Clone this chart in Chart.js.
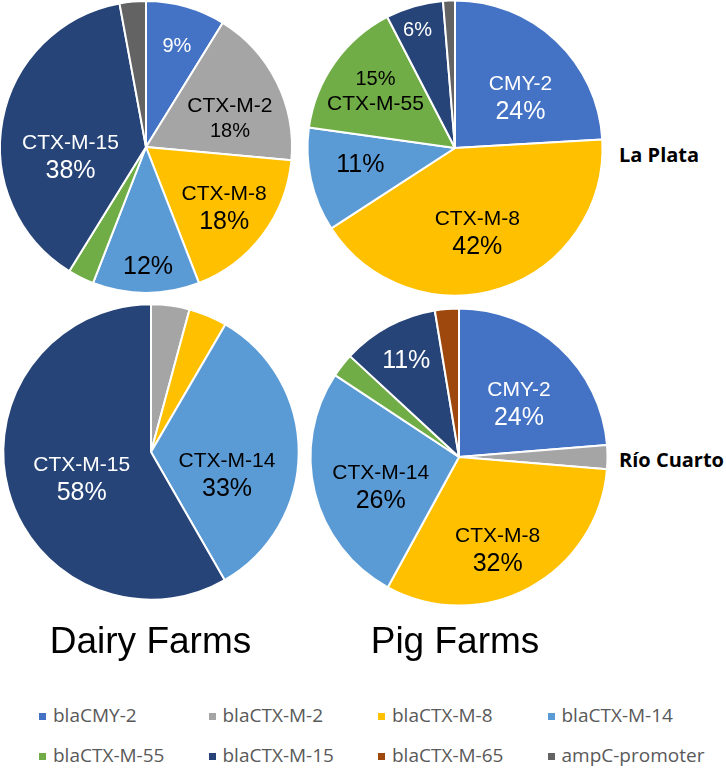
<!DOCTYPE html>
<html>
<head>
<meta charset="utf-8">
<script src="https://cdn.jsdelivr.net/npm/chart.js@4.4.1/dist/chart.umd.min.js"></script>
<style>
  html, body { margin: 0; padding: 0; background: #fff; }
  #stage { position: relative; width: 726px; height: 768px; overflow: hidden; }
  #stage canvas { position: absolute; }
  .title { position: absolute; font-family: "Liberation Sans", Arial, sans-serif; font-size: 37px; line-height: 37px; color: #000; white-space: nowrap; transform: translateX(-50%); }
  .region { position: absolute; font-family: "Open Sans", sans-serif; font-weight: bold; font-size: 20px; line-height: 20px; color: #000; white-space: nowrap; }
  .lg-box { position: absolute; width: 7px; height: 7px; }
  .lg-text { position: absolute; font-family: "Open Sans", sans-serif; font-size: 19px; line-height: 19px; color: #595959; white-space: nowrap; }
</style>
</head>
<body>
<div id="stage"></div>
<script>
// ---- data (shares in %) ----
const categories = ["blaCMY-2", "blaCTX-M-2", "blaCTX-M-8", "blaCTX-M-14", "blaCTX-M-55", "blaCTX-M-15", "blaCTX-M-65", "ampC-promoter"];
const dairyLaPlata = [8.8, 17.6, 17.6, 11.8, 2.9, 38.2, 0, 2.9];
const pigLaPlata = [24.1, 0, 41.8, 11.4, 15.2, 6.3, 0, 1.3];
const dairyRioCuarto = [0, 4.2, 4.2, 33.3, 0, 58.3, 0, 0];
const pigRioCuarto = [23.7, 2.6, 31.6, 26.3, 2.6, 10.5, 2.6, 0];
const farmTitles = ["Dairy Farms", "Pig Farms"];
const regionNames = ["La Plata", "Río Cuarto"];

// ---- styles ----
const sliceColors = ["#4472C4", "#A5A5A5", "#FFC000", "#5B9BD5", "#70AD47", "#264478", "#9E480E", "#636363"];
const labelInk = ["#fff", "#000", "#000", "#000", "#000", "#fff", "#fff", "#fff"];
const NAME_PX = 21;
const PCT_PX = 25;
const FONT = '"Liberation Sans", Arial, sans-serif';

// label placement: slice index, lines, radial fraction, angle nudge (deg)
const labelsDairyLP = [
  { i: 0, lines: ["pct"], pct: 20, rf: 0.73, da: 1 },
  { i: 1, lines: ["name", "pct"], pct: 20, rf: 0.61, da: 7 },
  { i: 2, lines: ["name", "pct"], rf: 0.67, da: 0 },
  { i: 3, lines: ["pct"], rf: 0.81, da: -1 },
  { i: 5, lines: ["name", "pct"], rf: 0.52, da: -16.6 },
];
const labelsPigLP = [
  { i: 0, lines: ["name", "pct"], rf: 0.565, da: 8.4 },
  { i: 2, lines: ["name", "pct"], rf: 0.585, da: 3.2 },
  { i: 3, lines: ["pct"], rf: 0.65, da: 3.3 },
  { i: 4, lines: ["pct", "name"], pct: 20, rf: 0.665, da: 0.5 },
  { i: 5, lines: ["pct"], pct: 20, rf: 0.845, da: -1.5 },
];
const labelsDairyRC = [
  { i: 3, lines: ["name", "pct"], rf: 0.535, da: 15.7 },
  { i: 5, lines: ["name", "pct"], rf: 0.5, da: -5.3 },
];
const labelsPigRC = [
  { i: 0, lines: ["name", "pct"], rf: 0.545, da: 5.1 },
  { i: 2, lines: ["name", "pct"], rf: 0.67, da: 5.4 },
  { i: 3, lines: ["name", "pct"], rf: 0.56, da: -5.8 },
  { i: 5, lines: ["pct"], rf: 0.75, da: 0 },
];

const stage = document.getElementById("stage");

function sliceLabelPlugin(labels) {
  return {
    id: "sliceLabels",
    afterDatasetsDraw(chart) {
      const meta = chart.getDatasetMeta(0);
      const values = chart.data.datasets[0].data;
      const { ctx } = chart;
      ctx.save();
      ctx.textAlign = "center";
      ctx.textBaseline = "alphabetic";
      labels.forEach((lb) => {
        const arc = meta.data[lb.i];
        if (!arc) return;
        const ang = (arc.startAngle + arc.endAngle) / 2 + (lb.da * Math.PI) / 180;
        const bx = arc.x + Math.cos(ang) * lb.rf * arc.outerRadius;
        const by = arc.y + Math.sin(ang) * lb.rf * arc.outerRadius;
        const items = lb.lines.map((kind) => {
          if (kind === "name") return { text: categories[lb.i].replace(/^bla/, ""), size: NAME_PX };
          return { text: Math.round(values[lb.i]) + "%", size: lb.pct || PCT_PX };
        });
        let step = 0;
        if (items.length === 2) step = ((items[0].size + items[1].size) / 2) * 1.2;
        ctx.fillStyle = labelInk[lb.i];
        items.forEach((it, k) => {
          const capMid = by + (items.length === 2 ? (k === 0 ? -step / 2 : step / 2) : 0);
          ctx.font = `${it.size}px ${FONT}`;
          ctx.fillText(it.text, bx, capMid + it.size * 0.716 / 2);
        });
      });
      ctx.restore();
    },
  };
}

function makePie(values, labels, cx, cy, r) {
  const size = 320;
  const canvas = document.createElement("canvas");
  canvas.width = size;
  canvas.height = size;
  canvas.style.left = cx - size / 2 + "px";
  canvas.style.top = cy - size / 2 + "px";
  canvas.style.width = size + "px";
  canvas.style.height = size + "px";
  stage.appendChild(canvas);
  return new Chart(canvas, {
    type: "pie",
    data: {
      labels: categories,
      datasets: [
        {
          data: values,
          backgroundColor: sliceColors,
          borderColor: "#fff",
          borderWidth: 2,
        },
      ],
    },
    options: {
      responsive: false,
      animation: false,
      radius: r,
      layout: { padding: 0 },
      plugins: { legend: { display: false }, tooltip: { enabled: false } },
    },
    plugins: [sliceLabelPlugin(labels)],
  });
}

makePie(dairyLaPlata, labelsDairyLP, 146, 147.3, 146);
makePie(pigLaPlata, labelsPigLP, 455, 148, 147.5);
makePie(dairyRioCuarto, labelsDairyRC, 150.5, 451.7, 147.7);
makePie(pigRioCuarto, labelsPigRC, 459, 457, 148.5);

// titles under the columns
const titleX = [150.5, 455];
farmTitles.forEach((t, k) => {
  const d = document.createElement("div");
  d.className = "title";
  d.textContent = t;
  d.style.left = titleX[k] + "px";
  d.style.top = 653 - 37 * 0.8465 + "px";
  stage.appendChild(d);
});

// region tags at the right
const regionBaseline = [162.7, 467.3];
regionNames.forEach((t, k) => {
  const d = document.createElement("div");
  d.className = "region";
  d.textContent = t;
  d.style.left = "619px";
  d.style.top = regionBaseline[k] - 20 * 0.888 + "px";
  stage.appendChild(d);
});

// legend, 4 columns x 2 rows
const lgColX = [39, 208.5, 378, 547.5];
const lgRowY = [716.7, 756.7];
categories.forEach((c, k) => {
  const col = k % 4;
  const row = Math.floor(k / 4);
  const box = document.createElement("div");
  box.className = "lg-box";
  box.style.background = sliceColors[k];
  box.style.left = lgColX[col] + "px";
  box.style.top = lgRowY[row] - 3.5 + "px";
  stage.appendChild(box);
  const tx = document.createElement("div");
  tx.className = "lg-text";
  tx.textContent = c;
  tx.style.left = lgColX[col] + 14 + "px";
  tx.style.top = lgRowY[row] + 6.5 - 19 * 0.888 + "px";
  stage.appendChild(tx);
});
</script>
</body>
</html>
